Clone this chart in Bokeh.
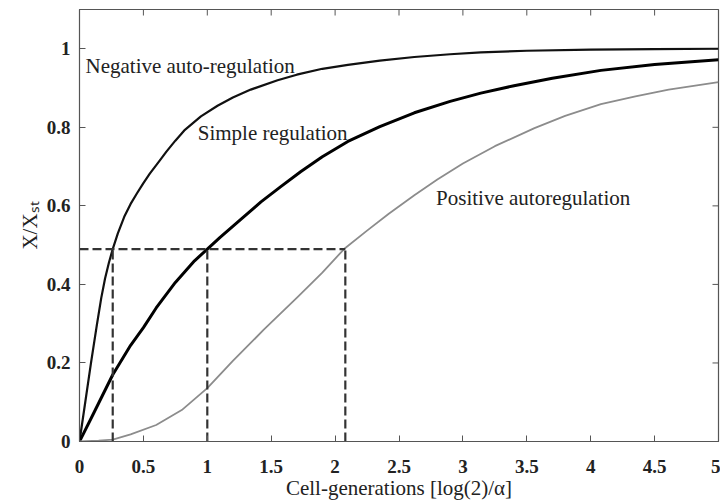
import math
from bokeh.plotting import figure
from bokeh.models import Range1d, Label, ColumnDataSource
from bokeh.embed import file_html
from bokeh.resources import INLINE

# ---- data ----
neg_t = [0, 0.045, 0.09, 0.135, 0.17, 0.20, 0.23, 0.26, 0.30, 0.35, 0.40, 0.45, 0.50, 0.55,
         0.62, 0.68, 0.75, 0.82, 0.95, 1.08, 1.20, 1.34, 1.55, 1.70, 1.90, 2.10, 2.35, 2.62,
         2.90, 3.14, 3.50, 4.00, 4.50, 5.00]
neg_y = [0, 0.10, 0.20, 0.295, 0.365, 0.415, 0.455, 0.49, 0.53, 0.572, 0.605, 0.632, 0.658, 0.682,
         0.712, 0.738, 0.766, 0.792, 0.828, 0.855, 0.876, 0.896, 0.920, 0.934, 0.949, 0.959,
         0.970, 0.979, 0.986, 0.991, 0.995, 0.998, 0.999, 1.0]

simple_t = [0, 0.10, 0.26, 0.40, 0.50, 0.60, 0.75, 0.90, 1.00, 1.10, 1.26, 1.42, 1.575, 1.73,
            1.90, 2.10, 2.35, 2.62, 2.90, 3.14, 3.40, 3.70, 4.08, 4.50, 5.00]
simple_y = [0, 0.065, 0.17, 0.245, 0.29, 0.34, 0.405, 0.46, 0.49, 0.52, 0.565, 0.61, 0.649, 0.687,
            0.725, 0.764, 0.802, 0.837, 0.866, 0.887, 0.906, 0.925, 0.945, 0.960, 0.972]

pos_t = [0, 0.15, 0.26, 0.40, 0.60, 0.80, 1.00, 1.20, 1.44, 1.71, 1.90, 2.07, 2.25, 2.42, 2.62,
         2.80, 3.00, 3.25, 3.56, 3.80, 4.08, 4.35, 4.61, 5.00]
pos_y = [0, 0.002, 0.005, 0.018, 0.042, 0.080, 0.136, 0.205, 0.284, 0.369, 0.43, 0.49, 0.537, 0.58,
         0.627, 0.667, 0.708, 0.752, 0.798, 0.829, 0.859, 0.879, 0.896, 0.915]

half_level = 0.49
half_times = [0.26, 1.0, 2.08]

x_ticks = [0, 0.5, 1, 1.5, 2, 2.5, 3, 3.5, 4, 4.5, 5]
x_tick_labels = ["0", "0.5", "1", "1.5", "2", "2.5", "3", "3.5", "4", "4.5", "5"]
y_ticks = [0, 0.2, 0.4, 0.6, 0.8, 1.0]
y_tick_labels = ["0", "0.2", "0.4", "0.6", "0.8", "1"]

curve_names = ["Negative auto-regulation", "Simple regulation", "Positive autoregulation"]
x_title = "Cell-generations [log(2)/\u03b1]"
y_title = "X/X\u209b\u209c"

FONT = "Liberation Serif"
AXC = "#555555"
TXT = "#222222"
X0, X1, Y0, Y1 = 0, 5, 0, 1.1

p = figure(width=720, height=502, x_range=Range1d(X0, X1), y_range=Range1d(Y0, Y1),
           output_backend="svg", toolbar_location=None,
           min_border_left=79, min_border_right=2, min_border_top=9, min_border_bottom=60)
p.xgrid.grid_line_color = None
p.ygrid.grid_line_color = None
p.outline_line_color = AXC
p.outline_line_width = 1.2
p.background_fill_color = "white"
p.border_fill_color = "white"

xa = p.below[0]
ya = p.left[0]
xa.ticker = x_ticks
xa.major_label_overrides = dict(zip(x_ticks, x_tick_labels))
ya.ticker = y_ticks
ya.major_label_overrides = dict(zip(y_ticks, y_tick_labels))

for ax in [xa, ya]:
    ax.axis_line_color = AXC
    ax.major_tick_line_color = AXC
    ax.major_tick_in = 6
    ax.major_tick_out = 0
    ax.minor_tick_line_color = None
    ax.major_label_text_font = FONT
    ax.major_label_text_font_size = "19px"
    ax.major_label_text_font_style = "bold"
    ax.major_label_text_color = TXT
    ax.axis_label_text_font = FONT
    ax.axis_label_text_font_size = "21px"
    ax.axis_label_text_font_style = "normal"
    ax.axis_label_text_color = TXT

xa.major_label_standoff = 18
xa.axis_label = x_title
xa.axis_label_standoff = 0
ya.major_label_standoff = 9
ya.axis_label = y_title
ya.axis_label_standoff = 2

# mirrored inward ticks on top and right sides of the frame
p.ray(x=x_ticks, y=[Y1] * len(x_ticks), length=6, length_units="screen",
      angle=-math.pi / 2, line_color=AXC, line_width=1)
p.ray(x=[X1] * len(y_ticks), y=y_ticks, length=6, length_units="screen",
      angle=math.pi, line_color=AXC, line_width=1)

# curves
p.line(neg_t, neg_y, line_color="#111111", line_width=2.2, line_join="round")
p.line(simple_t, simple_y, line_color="#000000", line_width=3.0, line_join="round")
p.line(pos_t, pos_y, line_color="#8c8c8c", line_width=1.8, line_join="round")

# dashed guides at half of steady state
seg = ColumnDataSource(dict(
    x0=[0] + half_times,
    y0=[half_level] + [0] * len(half_times),
    x1=[max(half_times)] + half_times,
    y1=[half_level] * (len(half_times) + 1),
))
p.segment("x0", "y0", "x1", "y1", source=seg, line_color="#333333", line_width=2.2,
          line_dash="9 4")

# curve labels
label_pos = [(0.047, 0.957), (0.925, 0.786), (2.79, 0.62)]
for name, (lx, ly) in zip(curve_names, label_pos):
    p.add_layout(Label(x=lx, y=ly, text=name, text_font=FONT, text_font_size="21px",
                       text_align="left", text_baseline="middle", text_color=TXT))

open("out.html", "w").write(file_html(p, INLINE))
